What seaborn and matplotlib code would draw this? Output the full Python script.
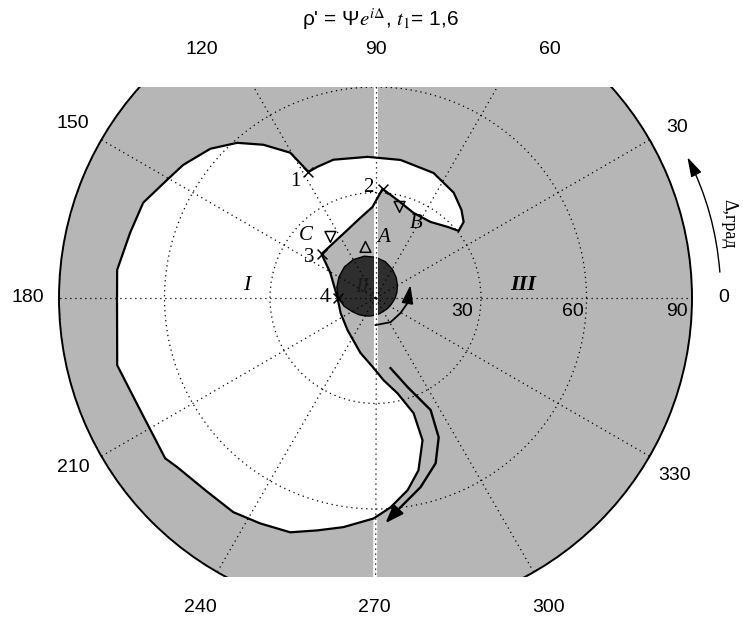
import numpy as np
import matplotlib
matplotlib.use("Agg")
import matplotlib.pyplot as plt
from matplotlib.patches import Rectangle
import seaborn as sns

plt.rcParams['font.family'] = ['Liberation Sans', 'DejaVu Sans']
plt.rcParams['mathtext.fontset'] = 'stix'

# ---------------- data ----------------
r_max = 90
angle_ticks = [0, 30, 60, 90, 120, 150, 180, 210, 240, 270, 300, 330]
angle_tick_labels = ['0', '30', '60', '90', '120', '150', '180', '210', '240', '270', '300', '330']
radial_ticks = [30, 60, 90]
radial_tick_labels = ['30', '60', '90']

# boundary of region I (Delta in degrees, Psi)
region_I_theta = [118.0, 120.4, 126.2, 131.7, 137.9, 145.3, 150.4, 157.7, 165.1, 173.8,
                  180.4, 194.6, 206.0, 217.3, 220.5, 228.5, 236.4, 242.9, 250.0, 256.0,
                  262.0, 269.5, 274.1, 279.5, 284.0, 288.3, 288.3, 283.0, 275.6, 268.4,
                  254.7, 228.8, 203.2, 180.0, 150.9, 140.8, 127.4, 113.4, 101.5, 91.9,
                  86.3, 76.7, 65.9, 54.1, 44.6, 38.9, 40.8, 45.7, 53.4, 65.1,
                  79.7, 93.2, 106.9, 113.9, 118.0]
region_I_r = [40.6, 47.9, 54.0, 59.1, 63.3, 66.5, 68.1, 71.4, 72.2, 73.9,
              73.5, 75.9, 74.1, 75.2, 74.1, 73.0, 73.1, 72.0, 70.9, 68.1,
              65.8, 62.7, 59.7, 55.4, 50.5, 42.6, 34.5, 27.8, 23.5, 19.9,
              16.2, 12.1, 10.8, 10.8, 14.7, 19.8, 19.7, 20.8, 23.0, 25.9,
              31.1, 28.4, 26.5, 26.7, 28.8, 30.4, 33.1, 35.0, 37.3, 39.2,
              39.9, 40.2, 41.1, 40.8, 40.6]

# region II (dark blob around the origin)
blob_theta = [0, 15, 30, 45, 60, 75, 90, 105, 120, 135, 150, 165,
              180, 195, 210, 225, 240, 255, 270, 285, 300, 315, 330, 345]
blob_r = [5.6, 6.3, 7.2, 8.3, 9.5, 10.7, 11.6, 12.3, 12.6, 12.5, 12.0, 11.4,
          10.6, 9.2, 7.7, 6.7, 5.9, 5.3, 4.8, 4.6, 4.4, 4.5, 4.7, 5.0]

# S-shaped arrow along the tail of region I
s_arrow_theta = [282.1, 289.8, 296.2, 294.4, 290.0, 283.4, 275.9]
s_arrow_r = [20.4, 26.9, 35.5, 43.5, 50.0, 55.3, 60.7]
s_arrow_tip = (272.5, 64.1)

# small arrow around region II
blob_arrow_theta = [270.0, 302.0, 329.0, 351.0]
blob_arrow_r = [7.7, 8.1, 8.3, 9.2]
blob_arrow_tip = (20.4, 10.6)

# direction of Delta arrow outside the circle
delta_arrow_theta = [4.3, 24.3]
delta_arrow_r = [98.2, 97.3]

# marked points 1-4
pts_labels = ['1', '2', '3', '4']
pts_theta = [118.0, 86.3, 140.8, 180.0]
pts_r = [40.6, 31.1, 19.8, 10.8]

# triangles
tri_down_labels = ['C', 'B']
tri_down_theta = [126.4, 75.2]
tri_down_r = [21.6, 26.8]
tri_up_labels = ['A']
tri_up_theta = [101.1]
tri_up_r = [14.8]

# ---------------- figure ----------------
W, H = 743, 618
fig = plt.figure(figsize=(W / 100, H / 100), dpi=100)
fig.patch.set_facecolor('white')

cx, cy, R = 375.5, 298.0, 316.5
ax = fig.add_axes([(cx - R) / W, (H - cy - R) / H, 2 * R / W, 2 * R / H], projection='polar')
ax.set_facecolor('#b6b6b6')
ax.set_axisbelow(False)

def rad(a):
    return np.radians(np.asarray(a, dtype=float))

# region I (white)
ax.fill(rad(region_I_theta), region_I_r, facecolor='white', edgecolor='none', zorder=1)

# region II (dark)
ax.fill(rad(blob_theta), blob_r, facecolor='#2e2e2e', edgecolor='black', lw=1.0, zorder=2)

# white 90/270 axis
ax.axvline(np.pi / 2, color='white', lw=2.8, zorder=2.3)
ax.axvline(3 * np.pi / 2, color='white', lw=2.8, zorder=2.3)

# outline of region I
sns.lineplot(x=rad(region_I_theta), y=region_I_r, sort=False, estimator=None,
             color='black', lw=1.6, ax=ax, zorder=3)

# S arrow
sns.lineplot(x=rad(s_arrow_theta), y=s_arrow_r, sort=False, estimator=None,
             color='black', lw=1.7, ax=ax, zorder=3)
ax.annotate('', xy=(np.radians(s_arrow_tip[0]), s_arrow_tip[1]),
            xytext=(np.radians(s_arrow_theta[-1]), s_arrow_r[-1]),
            arrowprops=dict(arrowstyle='-|>,head_length=1.1,head_width=0.4',
                            color='black', lw=1.7, shrinkA=0, shrinkB=0), zorder=3)

# blob arrow
sns.lineplot(x=rad(blob_arrow_theta), y=blob_arrow_r, sort=False, estimator=None,
             color='black', lw=1.3, ax=ax, zorder=3)
ax.annotate('', xy=(np.radians(blob_arrow_tip[0]), blob_arrow_tip[1]),
            xytext=(np.radians(blob_arrow_theta[-1]), blob_arrow_r[-1]),
            arrowprops=dict(arrowstyle='-|>,head_length=1.1,head_width=0.35',
                            color='black', lw=1.3, shrinkA=0, shrinkB=0), zorder=3)

# Delta arrow outside the circle
ann = ax.annotate('', xy=(np.radians(delta_arrow_theta[1]), delta_arrow_r[1]),
                  xytext=(np.radians(delta_arrow_theta[0]), delta_arrow_r[0]),
                  arrowprops=dict(arrowstyle='-|>,head_length=1.2,head_width=0.35',
                                  color='black', lw=1.0, shrinkA=0, shrinkB=0,
                                  connectionstyle='arc3,rad=0.1'),
                  annotation_clip=False)
ann.set_clip_on(False)
ann.arrow_patch.set_clip_on(False)

# markers
sns.scatterplot(x=rad(pts_theta), y=pts_r, marker='x', s=50, color='black', ax=ax, zorder=4)
ax.collections[-1].set_color('black')
ax.collections[-1].set_linewidth(1.1)
sns.scatterplot(x=rad(tri_down_theta), y=tri_down_r, marker='v', s=60, ax=ax, zorder=4)
ax.collections[-1].set_facecolor('none')
ax.collections[-1].set_edgecolor('black')
ax.collections[-1].set_linewidth(1.1)
sns.scatterplot(x=rad(tri_up_theta), y=tri_up_r, marker='^', s=60, ax=ax, zorder=4)
ax.collections[-1].set_facecolor('none')
ax.collections[-1].set_edgecolor('black')
ax.collections[-1].set_linewidth(1.1)

# grid / axes
ax.set_ylim(0, r_max)
ax.set_xticks(rad(angle_ticks))
ax.set_xticklabels([])
ax.set_yticks(radial_ticks)
ax.set_yticklabels([])
ax.tick_params(length=0)
ax.grid(True, color='black', linestyle=(0, (1, 3)), linewidth=0.9)
ax.spines['polar'].set_color('black')
ax.spines['polar'].set_linewidth(1.4)
ax.set_xlabel('')
ax.set_ylabel('')

# white covers (the scanned chart is cut at top and bottom)
fig.add_artist(Rectangle((0, 1 - 87 / H), 1, 87 / H, transform=fig.transFigure,
                         facecolor='white', edgecolor='none', zorder=5))
fig.add_artist(Rectangle((0, 0), 1, (H - 577) / H, transform=fig.transFigure,
                         facecolor='white', edgecolor='none', zorder=5))

def ftext(x, y, s, **kw):
    kw.setdefault('ha', 'center')
    kw.setdefault('va', 'center')
    kw.setdefault('zorder', 10)
    return fig.text(x / W, 1 - y / H, s, **kw)

# angle labels
angle_label_px = [(724, 298), (677, 127), (550, 50), (376, 50), (202, 50), (73, 123),
                  (28, 298), (73, 468), (200, 608), (374, 608), (549, 608), (675, 475)]
for lab, (x, y) in zip(angle_tick_labels, angle_label_px):
    ftext(x, y, lab, fontsize=14)

# radial labels
radial_label_px = [(462, 311), (573, 311), (677, 311)]
for lab, (x, y) in zip(radial_tick_labels, radial_label_px):
    ftext(x, y, lab, fontsize=14)

# title
ftext(380, 19, r"ρ' = Ψ$e^{i\Delta}$, $t_1$= 1,6", fontsize=15)

# Delta label
ftext(729, 224, 'Δ,град', rotation=-90, fontsize=13, family=['Liberation Serif', 'DejaVu Serif'])

# point and region labels
serif = ['Liberation Serif', 'DejaVu Serif']
for lab, (x, y) in zip(pts_labels, [(295, 182), (368, 187), (309, 257), (325, 298)]):
    ftext(x, y, lab, fontsize=15, family=serif)
for lab, (x, y) in zip(tri_down_labels, [(306, 236), (416, 223)]):
    ftext(x, y, lab, fontsize=15, family=serif, style='italic')
for lab, (x, y) in zip(tri_up_labels, [(384, 237)]):
    ftext(x, y, lab, fontsize=15, family=serif, style='italic')
ftext(247, 285, 'I', fontsize=16, family=serif, style='italic')
ftext(362, 287, 'II', fontsize=15, family=serif, style='italic', color='#1a1a1a')
ftext(523, 285, 'III', fontsize=16, family=serif, style='italic', weight='bold')

fig.savefig('out.png', dpi=100)
